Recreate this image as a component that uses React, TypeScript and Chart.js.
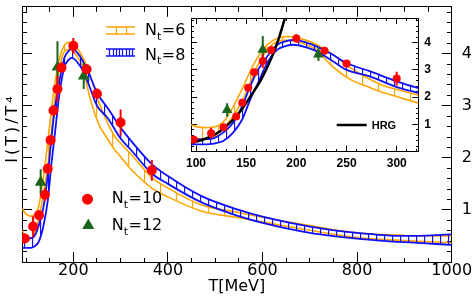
import React, { useEffect, useRef } from 'react';
import { Chart, registerables } from 'chart.js';

Chart.register(...registerables);

// ---------------- data ----------------
const X_TICKS = [200, 400, 600, 800, 1000];
const Y_TICKS = [1, 2, 3, 4];
const INSET_X_TICKS = [100, 150, 200, 250, 300];
const INSET_Y_TICKS = [1, 2, 3, 4];

// N_t = 10 (red circles)
const NT10_T = [97.5, 115, 127.5, 140, 146, 152, 158, 166.5, 175, 200, 228, 250, 300, 366];
const NT10_V = [0.45, 0.68, 0.9, 1.29, 1.79, 2.34, 2.91, 3.32, 3.73, 4.15, 3.7, 3.23, 2.68, 1.76];
const NT10_ERR = [0.08, 0.2, 0.1, 0.12, 0.1, 0.1, 0.1, 0.25, 0.1, 0.15, 0.1, 0.1, 0.25, 0.2];

// N_t = 12 (green triangles)
const NT12_T = [131, 166.5, 222];
const NT12_V = [1.53, 3.74, 3.57];
const NT12_ERR = [0.25, 0.5, 0.25];

// N_t = 6 band (orange)
const NT6_T = [92, 100, 110, 120, 128, 137, 146, 154, 161, 171, 181, 190, 200, 210, 220, 234, 254, 270, 287, 300, 321, 366, 400, 470, 550, 600, 700, 800, 900, 1000];
const NT6_HI = [1.02, 0.92, 0.88, 0.92, 1.12, 1.65, 2.3, 2.95, 3.43, 3.92, 4.16, 4.22, 4.18, 4.08, 3.93, 3.62, 3.07, 2.72, 2.42, 2.28, 2.08, 1.62, 1.42, 1.1, 0.95, 0.86, 0.7, 0.56, 0.51, 0.5];
const NT6_LO = [0.6, 0.5, 0.45, 0.6, 0.88, 1.3, 1.85, 2.52, 3.13, 3.74, 4.04, 4.08, 4.04, 3.92, 3.74, 3.19, 2.64, 2.4, 2.16, 2.02, 1.79, 1.42, 1.25, 0.98, 0.85, 0.77, 0.61, 0.47, 0.41, 0.37];

// N_t = 8 band (blue)
const NT8_T = [92, 100, 110, 118, 127, 137, 146, 154, 161, 171, 181, 190, 197, 210, 220, 235, 250, 273, 300, 321, 366, 400, 470, 550, 600, 700, 800, 900, 1000];
const NT8_HI = [0.45, 0.45, 0.46, 0.5, 0.7, 1.06, 1.67, 2.4, 2.95, 3.49, 3.92, 4.05, 4.1, 4.0, 3.86, 3.58, 3.25, 2.95, 2.58, 2.34, 1.88, 1.65, 1.27, 1.0, 0.87, 0.68, 0.56, 0.5, 0.53];
const NT8_LO = [0.27, 0.27, 0.27, 0.3, 0.39, 0.7, 1.18, 1.91, 2.46, 3.25, 3.74, 3.88, 3.92, 3.82, 3.68, 3.35, 3.0, 2.76, 2.37, 2.16, 1.7, 1.5, 1.15, 0.88, 0.75, 0.56, 0.45, 0.38, 0.33];

// HRG (black line, inset only)
const HRG_T = [95, 105, 115, 125, 135, 145, 155, 165, 175, 182, 189];
const HRG_V = [0.33, 0.42, 0.56, 0.78, 1.1, 1.52, 2.07, 2.65, 3.42, 4.1, 4.95];

// ---------------- styles ----------------
const RED = '#ff0000';
const GREEN = '#1a661a';
const BLUE = '#1010ff';
const ORANGE = '#ffa500';
const FONT = 'DejaVu Sans';
const INSET_FONT = 'Liberation Sans';

const toXY = (xs: number[], ys: number[]) => xs.map((x, i) => ({ x, y: ys[i] }));

function makeHatch(color: string, spacing: number, lw: number) {
  const c = document.createElement('canvas');
  c.width = spacing;
  c.height = 4;
  const g = c.getContext('2d') as CanvasRenderingContext2D;
  g.strokeStyle = color;
  g.lineWidth = lw;
  g.beginPath();
  g.moveTo(0.5, 0);
  g.lineTo(0.5, 4);
  g.stroke();
  return g.createPattern(c, 'repeat') as CanvasPattern;
}

function buildDatasets(inset: boolean) {
  const ds: any[] = [
    {
      label: 'Nt=10', data: toXY(NT10_T, NT10_V), errors: NT10_ERR, errorColor: RED, errorWidth: 2,
      showLine: false, pointStyle: 'circle', pointRadius: inset ? 4 : 5,
      pointBackgroundColor: RED, pointBorderWidth: 0, borderColor: RED,
    },
    {
      label: 'Nt=12', data: toXY(NT12_T, NT12_V), errors: NT12_ERR, errorColor: GREEN, errorWidth: 2,
      showLine: false, pointStyle: 'triangle', pointRadius: inset ? 6.2 : 6.8,
      pointBackgroundColor: GREEN, pointBorderWidth: 0, borderColor: GREEN,
    },
  ];
  if (inset) {
    ds.push({
      label: 'HRG', data: toXY(HRG_T, HRG_V), borderColor: '#000', borderWidth: 2.5,
      pointRadius: 0, cubicInterpolationMode: 'monotone', fill: false,
    });
  }
  ds.push(
    {
      label: 'Nt=8 hi', data: toXY(NT8_T, NT8_HI), borderColor: BLUE, borderWidth: 1.8, pointRadius: 0,
      cubicInterpolationMode: 'monotone', fill: '+1', backgroundColor: makeHatch(BLUE, 8, 1.3),
    },
    {
      label: 'Nt=8 lo', data: toXY(NT8_T, NT8_LO), borderColor: BLUE, borderWidth: 1.8, pointRadius: 0,
      cubicInterpolationMode: 'monotone', fill: false,
    },
    {
      label: 'Nt=6 hi', data: toXY(NT6_T, NT6_HI), borderColor: ORANGE, borderWidth: 1.6, pointRadius: 0,
      cubicInterpolationMode: 'monotone', fill: '+1', backgroundColor: makeHatch(ORANGE, 16, 1.3),
    },
    {
      label: 'Nt=6 lo', data: toXY(NT6_T, NT6_LO), borderColor: ORANGE, borderWidth: 1.6, pointRadius: 0,
      cubicInterpolationMode: 'monotone', fill: false,
    },
  );
  return ds;
}

// ---------------- axis helpers (Chart.js borders + inward tick marks) ----------------
const isMult = (v: number, m: number) => Math.abs(v / m - Math.round(v / m)) < 1e-6;

function stepTicks(min: number, max: number, step: number) {
  const out: { value: number }[] = [];
  const n0 = Math.ceil(min / step - 1e-9);
  const n1 = Math.floor(max / step + 1e-9);
  for (let n = n0; n <= n1; n++) out.push({ value: +(n * step).toFixed(6) });
  return out;
}

// tick lines start at the border for bottom/right axes and at the inner end for top/left axes
function inwardGrid(len: number, majorStep: number, startsAtBorder: boolean) {
  const half = len / 2;
  return {
    display: true,
    drawOnChartArea: false,
    drawTicks: true,
    tickLength: -len,
    tickColor: '#000',
    tickWidth: 1,
    tickBorderDash: (c: any) => {
      const v = c && c.tick ? c.tick.value : 0;
      if (isMult(v, majorStep)) return [];
      return startsAtBorder ? [half, 200] : [0, half, half, 200];
    },
  };
}

const BORDER = { display: true, color: '#000', width: 1 };

function labelOnly(list: number[]) {
  return (v: any) => {
    const n = Number(v);
    return list.some((t) => Math.abs(t - n) < 1e-6) ? String(Math.round(n)) : '';
  };
}

// ---------------- plugins ----------------
const errorBarPlugin = {
  id: 'errorBars',
  beforeDatasetDraw(chart: any, args: any) {
    const ds: any = chart.data.datasets[args.index];
    if (!ds.errors) return;
    const xs = chart.scales.x;
    const ys = chart.scales.y;
    const ctx = chart.ctx;
    const a = chart.chartArea;
    ctx.save();
    ctx.beginPath();
    ctx.rect(a.left, a.top, a.right - a.left, a.bottom - a.top);
    ctx.clip();
    ctx.strokeStyle = ds.errorColor;
    ctx.lineWidth = ds.errorWidth;
    ctx.beginPath();
    ds.data.forEach((p: any, i: number) => {
      const e = ds.errors[i];
      const px = xs.getPixelForValue(p.x);
      ctx.moveTo(px, ys.getPixelForValue(p.y - e));
      ctx.lineTo(px, ys.getPixelForValue(p.y + e));
    });
    ctx.stroke();
    ctx.restore();
  },
};
Chart.register(errorBarPlugin as any);

function drawBandSymbol(ctx: CanvasRenderingContext2D, x: number, y: number, w: number, h: number, color: string, step: number) {
  ctx.save();
  ctx.strokeStyle = color;
  ctx.lineWidth = 1.6;
  ctx.beginPath();
  ctx.moveTo(x, y);
  ctx.lineTo(x + w, y);
  ctx.moveTo(x, y + h);
  ctx.lineTo(x + w, y + h);
  ctx.stroke();
  ctx.lineWidth = 1.2;
  ctx.beginPath();
  for (let px = x + step; px <= x + w + 0.01; px += step) {
    ctx.moveTo(Math.round(px) + 0.5, y);
    ctx.lineTo(Math.round(px) + 0.5, y + h);
  }
  ctx.stroke();
  ctx.restore();
}

function drawNt(ctx: CanvasRenderingContext2D, x: number, base: number, rest: string) {
  ctx.save();
  ctx.fillStyle = '#000';
  ctx.textBaseline = 'alphabetic';
  ctx.textAlign = 'left';
  ctx.font = `16px "${FONT}"`;
  ctx.fillText('N', x, base);
  const w1 = ctx.measureText('N').width;
  ctx.font = `11px "${FONT}"`;
  ctx.fillText('t', x + w1, base + 4.5);
  const w2 = ctx.measureText('t').width;
  ctx.font = `16px "${FONT}"`;
  ctx.fillText(rest, x + w1 + w2 + 0.5, base);
  ctx.restore();
}

const mainLegendPlugin = {
  id: 'mainLegend',
  afterDatasetsDraw(chart: any) {
    const ctx: CanvasRenderingContext2D = chart.ctx;
    drawBandSymbol(ctx, 106, 27, 29, 7, ORANGE, 10);
    drawNt(ctx, 145, 35, '=6');
    drawBandSymbol(ctx, 106, 49, 29, 7, BLUE, 3.3);
    drawNt(ctx, 145, 59.5, '=8');
    ctx.save();
    ctx.fillStyle = RED;
    ctx.beginPath();
    ctx.arc(87.5, 199.2, 5.5, 0, Math.PI * 2);
    ctx.fill();
    ctx.fillStyle = GREEN;
    const r = 7;
    const cx = 88.3, cy = 225.5;
    ctx.beginPath();
    ctx.moveTo(cx, cy - r);
    ctx.lineTo(cx + r * Math.sin((2 * Math.PI) / 3), cy - r * Math.cos((2 * Math.PI) / 3));
    ctx.lineTo(cx + r * Math.sin((4 * Math.PI) / 3), cy - r * Math.cos((4 * Math.PI) / 3));
    ctx.closePath();
    ctx.fill();
    ctx.restore();
    drawNt(ctx, 111.7, 203.3, '=10');
    drawNt(ctx, 111.7, 230, '=12');

    // rotated y-axis title with ROOT-like letter spacing
    ctx.save();
    ctx.translate(12.5, 128);
    ctx.rotate(-Math.PI / 2);
    ctx.fillStyle = '#000';
    ctx.font = `16px "${FONT}"`;
    (ctx as any).letterSpacing = '3px';
    ctx.textAlign = 'center';
    ctx.textBaseline = 'middle';
    ctx.fillText('I(T)/T⁴', 0, 0);
    ctx.restore();
  },
};

const insetLegendPlugin = {
  id: 'insetLegend',
  beforeDraw(chart: any) {
    const a = chart.chartArea;
    chart.ctx.save();
    chart.ctx.fillStyle = '#ffffff';
    chart.ctx.fillRect(a.left, a.top, a.right - a.left, a.bottom - a.top);
    chart.ctx.restore();
  },
  afterDatasetsDraw(chart: any) {
    const ctx: CanvasRenderingContext2D = chart.ctx;
    const a = chart.chartArea;
    const x0 = a.right - 81.6;
    const y0 = a.top + 107;
    ctx.save();
    ctx.strokeStyle = '#000';
    ctx.lineWidth = 2.5;
    ctx.beginPath();
    ctx.moveTo(x0, y0);
    ctx.lineTo(x0 + 30, y0);
    ctx.stroke();
    ctx.fillStyle = '#000';
    ctx.font = `bold 11px "${INSET_FONT}"`;
    ctx.textBaseline = 'middle';
    ctx.fillText('HRG', x0 + 35, y0 + 0.5);
    ctx.restore();
  },
};

const noPad = (s: any) => {
  s.paddingTop = 0;
  s.paddingBottom = 0;
  s.paddingLeft = 0;
  s.paddingRight = 0;
};

// ---------------- charts ----------------
function mainConfig(): any {
  const tickFont = { family: FONT, size: 16 };
  const xMin = 91.5, xMax = 1000, yMin = 0, yMax = 4.9;
  return {
    type: 'line',
    data: { datasets: buildDatasets(false) },
    plugins: [mainLegendPlugin],
    options: {
      responsive: false,
      animation: false,
      devicePixelRatio: 1,
      events: [],
      layout: { padding: { top: 2, left: 0, right: 0, bottom: 0 } },
      plugins: { legend: { display: false }, tooltip: { enabled: false } },
      scales: {
        x: {
          type: 'linear', position: 'bottom', min: xMin, max: xMax,
          grid: inwardGrid(10, 200, true), border: BORDER,
          ticks: { font: tickFont, color: '#000', padding: 9, maxRotation: 0, autoSkip: false, callback: labelOnly(X_TICKS) },
          afterBuildTicks: (s: any) => { s.ticks = stepTicks(xMin, xMax, 50); },
          title: { display: true, text: 'T[MeV]', color: '#000', font: { family: FONT, size: 16 }, padding: { top: 0, bottom: 0 } },
          afterFit: (s: any) => { noPad(s); s.height = 34; },
        },
        x2: {
          type: 'linear', position: 'top', min: xMin, max: xMax,
          grid: inwardGrid(10, 200, false), border: BORDER,
          ticks: { display: false, autoSkip: false },
          afterBuildTicks: (s: any) => { s.ticks = stepTicks(xMin, xMax, 50); },
          afterFit: (s: any) => { noPad(s); s.height = 0; },
        },
        y: {
          type: 'linear', position: 'left', min: yMin, max: yMax,
          grid: inwardGrid(10, 1, false), border: BORDER,
          ticks: { display: false, autoSkip: false },
          afterBuildTicks: (s: any) => { s.ticks = stepTicks(yMin, yMax, 0.2); },
          afterFit: (s: any) => { noPad(s); s.width = 22; },
        },
        y2: {
          type: 'linear', position: 'right', min: yMin, max: yMax,
          grid: inwardGrid(10, 1, true), border: BORDER,
          ticks: { font: tickFont, color: '#000', padding: 20, autoSkip: false, callback: labelOnly(Y_TICKS) },
          afterBuildTicks: (s: any) => { s.ticks = stepTicks(yMin, yMax, 0.2); },
          afterFit: (s: any) => { noPad(s); s.width = 22.3; },
        },
      },
    },
  };
}

function insetConfig(): any {
  const tickFont = { family: INSET_FONT, size: 12, weight: 'bold' };
  const xMin = 95, xMax = 321.5, yMin = 0, yMax = 4.9;
  return {
    type: 'line',
    data: { datasets: buildDatasets(true) },
    plugins: [insetLegendPlugin],
    options: {
      responsive: false,
      animation: false,
      devicePixelRatio: 1,
      events: [],
      layout: { padding: { top: 18, left: 0, right: 0, bottom: 0 } },
      plugins: { legend: { display: false }, tooltip: { enabled: false } },
      scales: {
        x: {
          type: 'linear', position: 'bottom', min: xMin, max: xMax,
          grid: inwardGrid(6, 50, true), border: BORDER,
          ticks: { font: tickFont, color: '#000', padding: 11, maxRotation: 0, autoSkip: false, callback: labelOnly(INSET_X_TICKS) },
          afterBuildTicks: (s: any) => { s.ticks = stepTicks(xMin, xMax, 10); },
          afterFit: (s: any) => { noPad(s); s.height = 28.3; },
        },
        x2: {
          type: 'linear', position: 'top', min: xMin, max: xMax,
          grid: inwardGrid(6, 50, false), border: BORDER,
          ticks: { display: false, autoSkip: false },
          afterBuildTicks: (s: any) => { s.ticks = stepTicks(xMin, xMax, 10); },
          afterFit: (s: any) => { noPad(s); s.height = 0; },
        },
        y: {
          type: 'linear', position: 'left', min: yMin, max: yMax,
          grid: inwardGrid(6, 1, false), border: BORDER,
          ticks: { display: false, autoSkip: false },
          afterBuildTicks: (s: any) => { s.ticks = stepTicks(yMin, yMax, 0.2); },
          afterFit: (s: any) => { noPad(s); s.width = 21; },
        },
        y2: {
          type: 'linear', position: 'right', min: yMin, max: yMax,
          grid: inwardGrid(6, 1, true), border: BORDER,
          ticks: { font: tickFont, color: '#000', padding: 12, autoSkip: false, callback: labelOnly(INSET_Y_TICKS) },
          afterBuildTicks: (s: any) => { s.ticks = stepTicks(yMin, yMax, 0.2); },
          afterFit: (s: any) => { noPad(s); s.width = 41.7; },
        },
      },
    },
  };
}

export default function App() {
  const mainRef = useRef<HTMLCanvasElement | null>(null);
  const insetRef = useRef<HTMLCanvasElement | null>(null);

  useEffect(() => {
    if (!mainRef.current || !insetRef.current) return;
    const main = new Chart(mainRef.current, mainConfig());
    const inset = new Chart(insetRef.current, insetConfig());
    return () => {
      main.destroy();
      inset.destroy();
    };
  }, []);

  return (
    <div style={{ position: 'fixed', left: 0, top: 0, width: 474, height: 296, background: '#fff', overflow: 'hidden' }}>
      <canvas ref={mainRef} width={474} height={296} style={{ position: 'absolute', left: 0, top: 0 }} />
      <canvas ref={insetRef} width={290} height={180} style={{ position: 'absolute', left: 170, top: 0 }} />
    </div>
  );
}
